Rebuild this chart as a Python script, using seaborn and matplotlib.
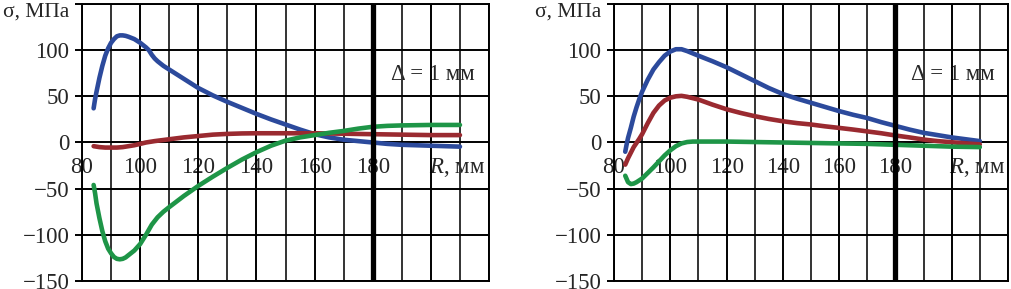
import numpy as np
import pandas as pd
import matplotlib
matplotlib.use("Agg")
import matplotlib.pyplot as plt
import seaborn as sns

# ---------------- data ----------------
# Left panel
L_blue_x = [84, 84.5, 85, 86, 87, 88, 89, 90, 91, 92, 93, 94, 95, 96, 98, 100, 102, 103, 104, 105, 106, 108, 110,
            115, 120, 125, 130, 135, 140, 145, 150, 155, 160, 165, 170, 175, 180, 185, 190, 195, 200, 205, 210]
L_blue_y = [37, 47, 55, 70, 83, 94, 102, 108, 112, 115, 116, 116, 115.5, 114.5, 112, 108, 103, 100, 95, 91, 88, 83, 79,
            69, 59, 51, 44, 37.5, 31, 25, 19.5, 14, 9, 5.5, 3, 1.5, 0, -1.5, -2.5, -3, -3.5, -4, -4.5]

L_red_x = [84, 86, 88, 90, 92, 94, 96, 98, 100, 102, 105, 110, 115, 120, 125, 130, 135, 140, 150, 160, 170, 180, 190, 200, 210]
L_red_y = [-4, -5, -5.5, -5.5, -5.5, -5, -4, -3, -1.5, 0, 1.5, 3.5, 5.5, 7, 8.5, 9.3, 9.8, 10, 10, 10, 9.5, 9, 8.5, 8, 8]

L_green_x = [84, 84.5, 85, 86, 87, 88, 89, 90, 91, 92, 93, 94, 95, 96, 98, 100, 102, 104, 106, 108, 110, 115, 120, 125,
             130, 135, 140, 145, 150, 155, 160, 165, 170, 175, 180, 185, 190, 200, 210]
L_green_y = [-46, -55, -66, -82, -96, -107, -115, -120, -124, -126, -126.5, -126, -124.5, -122, -117, -110, -100, -89, -81,
             -75, -70, -58, -47, -37, -27.5, -18.5, -10.5, -3.5, 2, 5.5, 8, 10.5, 12.5, 15, 17, 18, 18.5, 19, 19]

# Right panel
R_blue_x = [84, 84.5, 85, 86, 87, 88, 89, 90, 92, 94, 96, 98, 100, 102, 104, 106, 108, 110, 115, 120, 125, 130, 135,
            140, 145, 150, 155, 160, 165, 170, 175, 180, 185, 190, 195, 200, 205, 210]
R_blue_y = [-10, -2, 5, 16, 28, 38, 47, 55, 68, 79, 87, 94, 98.5, 101, 101, 99, 96.5, 94, 88, 81.5, 74, 66.5, 59,
            52.5, 47.5, 43, 38.5, 34, 30, 26.5, 22, 18, 14, 10.5, 8, 5.5, 3.5, 1.5]

R_red_x = [84, 85, 86, 87, 88, 89, 90, 92, 94, 96, 98, 100, 102, 104, 106, 108, 110, 115, 120, 125, 130, 135, 140, 145,
           150, 155, 160, 165, 170, 175, 180, 185, 190, 195, 200, 205, 210]
R_red_y = [-24, -17, -11, -5, -0.5, 4, 9, 21, 32, 40, 45.5, 48.5, 50, 50.5, 49.5, 48, 46.5, 41, 36, 32, 28.5, 25.5, 23, 21,
           19.5, 17.5, 15.8, 14, 12, 10, 7.6, 5.5, 3.2, 1.5, 0.3, -1, -2]

R_green_x = [84, 85, 86, 87, 88, 90, 92, 94, 96, 98, 100, 102, 104, 106, 108, 115, 120, 130, 140, 150, 160, 170, 180, 190, 200, 210]
R_green_y = [-36, -43, -45, -44.5, -43, -39, -33, -27, -20.5, -14, -8.5, -4, -1, 0.5, 1, 1, 1, 0.5, 0, -0.5, -1, -1.5,
             -2.5, -3.5, -4.5, -5]

x_tick_vals = [80, 100, 120, 140, 160, 180]
x_tick_labels = ["80", "100", "120", "140", "160", "180"]
y_tick_vals = [-150, -100, -50, 0, 50, 100, 150]
y_tick_labels = ["\u2212150", "\u2212100", "\u221250", "0", "50", "100", ""]
y_label = "σ, МПа"
x_label = "$R$, мм"
delta_text = "Δ = 1 мм"
gap_position = 180

# ---------------- style ----------------
sns.set_theme(style="white")
plt.rcParams["font.family"] = ["Liberation Serif", "DejaVu Serif"]
plt.rcParams["mathtext.fontset"] = "custom"
plt.rcParams["mathtext.it"] = "Liberation Serif:italic"
plt.rcParams["mathtext.rm"] = "Liberation Serif"
plt.rcParams["axes.unicode_minus"] = True

FS = 16.5
palette = {"blue": "#2c4a9c", "red": "#9a2a30", "green": "#1e9547"}


def make_df(bx, by, rx, ry, gx, gy):
    parts = []
    for name, xs, ys in (("blue", bx, by), ("red", rx, ry), ("green", gx, gy)):
        parts.append(pd.DataFrame({"R": xs, "sigma": ys, "series": name}))
    return pd.concat(parts, ignore_index=True)


fig = plt.figure(figsize=(10.11, 2.89), dpi=100)
ax1 = fig.add_axes([0.0811, 0.0277, 0.4026, 0.9585])
ax2 = fig.add_axes([0.6073, 0.0277, 0.3897, 0.9585])

panels = [
    (ax1, make_df(L_blue_x, L_blue_y, L_red_x, L_red_y, L_green_x, L_green_y)),
    (ax2, make_df(R_blue_x, R_blue_y, R_red_x, R_red_y, R_green_x, R_green_y)),
]

for ax, df in panels:
    sns.lineplot(data=df, x="R", y="sigma", hue="series", palette=palette, ax=ax,
                 linewidth=3.3, legend=False, sort=False, estimator=None, zorder=3)
    ax.set_xlim(80, 220)
    ax.set_ylim(-150, 150)
    ax.set_xlabel("")
    ax.set_ylabel("")
    ax.set_xticks(np.arange(80, 221, 20))
    ax.set_xticks(np.arange(90, 221, 20), minor=True)
    ax.set_xticklabels([])
    ax.set_yticks(y_tick_vals)
    ax.set_yticklabels(y_tick_labels, fontsize=FS)
    ax.tick_params(axis="x", which="both", length=0)
    ax.tick_params(axis="y", which="major", length=5, width=1.4, direction="out",
                   pad=4, color="black", left=True)
    ax.set_axisbelow(True)
    ax.grid(True, which="major", axis="both", color="black", linewidth=1.4)
    ax.grid(True, which="minor", axis="x", color="#333333", linewidth=1.4)
    for s in ax.spines.values():
        s.set_color("black")
        s.set_linewidth(1.4)
        s.set_visible(True)
    # thick line at gap position
    ax.axvline(gap_position, color="black", linewidth=3.8, zorder=4)
    # x tick labels placed inside, just below zero
    for v, lab in zip(x_tick_vals, x_tick_labels):
        ax.text(v, -27, lab, ha="center", va="center", fontsize=FS, zorder=0.3)
    ax.text(209, -27, x_label, ha="center", va="center", fontsize=FS, zorder=0.3)
    ax.text(200.5, 74, delta_text, ha="center", va="center", fontsize=FS, zorder=0.3)
    # y label at top, in place of the 150 tick label
    ax.annotate(y_label, xy=(0, 141), xycoords=("axes fraction", "data"),
                xytext=(-9, 0), textcoords="offset points",
                ha="right", va="center", fontsize=15.5, annotation_clip=False)

fig.savefig("out.png", dpi=100)
